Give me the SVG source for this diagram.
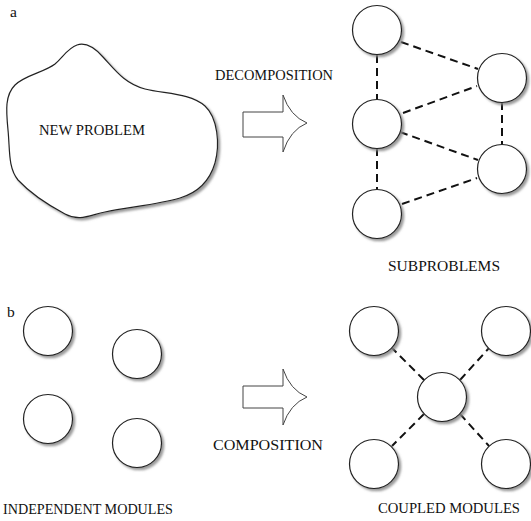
<svg xmlns="http://www.w3.org/2000/svg" width="531" height="521" viewBox="0 0 531 521">
<defs>
<filter id="sh" x="-20%" y="-20%" width="150%" height="150%">
<feDropShadow dx="2.2" dy="2.2" stdDeviation="0.9" flood-color="#888" flood-opacity="0.85"/>
</filter>
<style>
.t{font-family:"Liberation Serif","Times New Roman",serif;font-size:15.5px;fill:#111}
.n{fill:#fff;stroke:#222;stroke-width:1.2;filter:url(#sh)}
.d{stroke:#111;stroke-width:2;stroke-dasharray:8 5;fill:none}
.ar{fill:#fff;stroke:#444;stroke-width:1}
</style>
</defs>
<rect width="531" height="521" fill="#fff"/>
<text class="t" x="10" y="17">a</text>
<text class="t" x="7" y="317">b</text>

<g id="new-problem">
<path class="n" d="M77,45 C86,42 95,48 103,57 C115,70 125,84 145,89 C165,94 190,93 205,106 C218,118 220,145 215,163 C210,180 200,192 180,198 C160,204 130,207 105,212 C90,215 80,222 65,214 C50,206 30,193 18,180 C8,168 10,150 8,130 C6,110 5,95 15,85 C25,75 45,72 55,64 C63,57 68,48 77,45 Z"/>
<text class="t" x="39" y="135" textLength="106" lengthAdjust="spacingAndGlyphs">NEW PROBLEM</text>
</g>

<g id="decomposition-arrow">
<path class="ar" d="M243,112 L283,112 L283,95 Q290,116 307,123 Q290,130 283,152 L283,137 L243,137 Z"/>
<text class="t" x="215" y="80" textLength="118" lengthAdjust="spacingAndGlyphs">DECOMPOSITION</text>
</g>

<g id="connectors">
<line class="d" x1="377" y1="55" x2="377" y2="100"/>
<line class="d" x1="401" y1="42" x2="478" y2="69"/>
<line class="d" x1="403" y1="113" x2="477" y2="86"/>
<line class="d" x1="502" y1="102" x2="502" y2="145"/>
<line class="d" x1="400" y1="132" x2="478" y2="160"/>
<line class="d" x1="377" y1="148" x2="377" y2="190"/>
<line class="d" x1="402" y1="204" x2="477" y2="178"/>
<line class="d" x1="424" y1="380" x2="392" y2="348"/>
<line class="d" x1="460" y1="380" x2="489" y2="348"/>
<line class="d" x1="424" y1="414" x2="392" y2="446"/>
<line class="d" x1="460" y1="414" x2="489" y2="446"/>
</g>

<g id="sub1"><circle class="n" cx="377" cy="30" r="24.5"/></g>
<g id="sub2"><circle class="n" cx="502" cy="78" r="24.5"/></g>
<g id="sub3"><circle class="n" cx="377" cy="124" r="24.5"/></g>
<g id="sub4"><circle class="n" cx="502" cy="169" r="24.5"/></g>
<g id="sub5"><circle class="n" cx="377" cy="214" r="24.5"/></g>
<text class="t" x="388" y="271" textLength="112" lengthAdjust="spacingAndGlyphs">SUBPROBLEMS</text>

<g id="ind1"><circle class="n" cx="48" cy="331" r="24.5"/></g>
<g id="ind2"><circle class="n" cx="137" cy="354" r="24.5"/></g>
<g id="ind3"><circle class="n" cx="48" cy="419" r="24.5"/></g>
<g id="ind4"><circle class="n" cx="137" cy="443" r="24.5"/></g>
<text class="t" x="3" y="514" textLength="170" lengthAdjust="spacingAndGlyphs">INDEPENDENT MODULES</text>

<g id="composition-arrow">
<path class="ar" d="M243,386 L283,386 L283,369 Q290,390 307,397 Q290,404 283,425 L283,408 L243,408 Z"/>
<text class="t" x="213" y="450" textLength="110" lengthAdjust="spacingAndGlyphs">COMPOSITION</text>
</g>

<g id="cpl-center"><circle class="n" cx="442" cy="397" r="24.5"/></g>
<g id="cpl1"><circle class="n" cx="374" cy="331" r="24.5"/></g>
<g id="cpl2"><circle class="n" cx="506" cy="331" r="24.5"/></g>
<g id="cpl3"><circle class="n" cx="374" cy="464" r="24.5"/></g>
<g id="cpl4"><circle class="n" cx="506" cy="464" r="24.5"/></g>
<text class="t" x="378" y="513" textLength="142" lengthAdjust="spacingAndGlyphs">COUPLED MODULES</text>
</svg>
